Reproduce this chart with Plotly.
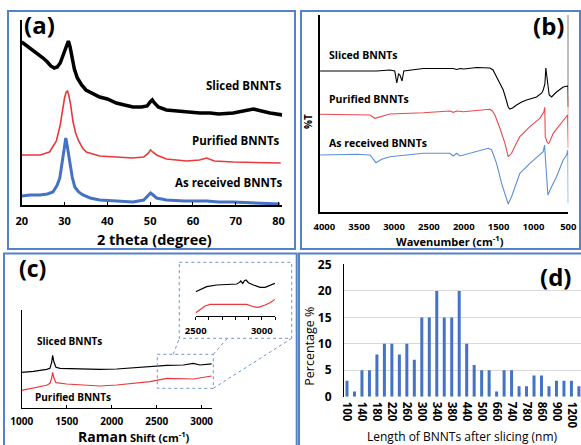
import plotly.graph_objects as go

# ---------------- data ----------------
# (a) XRD
xrd_2theta_sliced = [20, 21, 22, 23, 24, 25, 26, 26.8, 27.6, 28.3, 29.0, 29.6, 30.1, 30.6, 30.9, 31.3, 31.8, 32.3, 33.0, 34.0,
                     35, 36.5, 38.2, 40, 42.1, 44, 46, 48, 49.3, 50.0, 50.5, 51.0, 51.9, 53.8, 56, 58, 61.6, 64, 66, 69.4,
                     72, 74.1, 76, 78, 81]
xrd_sliced = [163, 160, 156, 153, 150, 147, 143, 139, 137, 138, 142, 149, 157, 163, 164, 158, 147, 136, 127, 120,
              115, 112, 108, 106, 102, 100, 98, 98, 99, 103, 105, 102, 98, 95, 94, 93, 92, 92, 91, 92,
              94, 96, 94, 92, 90]
xrd_2theta_purified = [20, 24.3, 26.5, 28.1, 29.0, 29.5, 30, 30.4, 30.7, 31.0, 31.4, 32, 32.6, 33.2, 34.2,
                       35.1, 38.2, 46, 48.5, 49.4, 50.1, 50.6, 51.5, 53.8, 58.5, 61.5, 63.2, 65, 69.4, 80.5]
xrd_purified = [50, 50, 53, 64, 80, 95, 107, 113, 114, 110, 101, 83, 72, 65, 57,
                53, 49, 47, 48, 51, 55, 53, 50, 46, 44, 45, 47, 44, 43, 42]
xrd_2theta_received = [20, 22, 24.3, 26, 27.3, 28.3, 28.9, 29.4, 29.8, 30.1, 30.3, 30.6, 30.9, 31.3, 31.8, 32.4, 33.3,
                       34.3, 36, 38.2, 42, 46, 48.5, 49.5, 50.1, 50.7, 51.5, 53.8, 58, 63.2, 66, 69.4, 75, 80.3]
xrd_received = [9, 10, 10, 11, 13, 20, 27, 40, 52, 62, 67, 60, 52, 38, 28, 18, 13,
                10, 7, 5, 4, 3, 5, 9, 12, 10, 7, 5, 4, 4, 3, 3, 2, 1]
xrd_ticks = [20, 30, 40, 50, 60, 70, 80]

# (b) FTIR
ftir_wn_sliced = [4060, 3536, 3250, 3060, 2990, 2960, 2935, 2915, 2885, 2860, 2580, 2150, 2100, 2050, 2000,
                  1815, 1624, 1580, 1529, 1480, 1433, 1390, 1362, 1338, 1300, 1242, 1170, 1099, 956, 880,
                  860, 836, 826, 822, 812, 802, 785, 774, 740, 669, 573, 516, 505, 500, 500]
ftir_sliced = [141, 141, 141, 142, 141, 129, 138, 137, 131, 141, 143.5, 143.5, 142.5, 143.5, 143,
               144.5, 144, 142, 135, 128, 122, 112, 105, 103, 104, 107, 110, 112, 115, 119,
               122, 128, 138, 144, 138, 132, 121, 117, 115, 120, 125, 126, 126, 105, 197]
ftir_wn_purified = [4060, 3536, 3345, 3273, 3202, 3058, 2580, 2198, 2150, 2100, 2007, 1815, 1624, 1590, 1553,
                    1481, 1409, 1362, 1314, 1250, 1195, 1051, 908, 850, 838, 830, 805, 785, 774, 716,
                    620, 548, 510, 500, 500]
ftir_purified = [97.7, 97.7, 97, 93.7, 95.3, 98, 99.3, 101, 99.7, 101, 100.3, 101.3, 102.7, 101, 97,
                 83.7, 68.7, 55.3, 58.7, 68, 75.3, 85.3, 93.7, 100.3, 104.7, 75, 70, 68.5, 69, 78.7,
                 87, 93.7, 97, 63.7, 115.3]
ftir_wn_received = [4060, 3536, 3345, 3259, 3178, 3058, 2580, 2198, 2150, 2102, 2055, 2007, 1815, 1648, 1600,
                    1529, 1457, 1395, 1362, 1314, 1250, 1195, 1051, 908, 860, 841, 830, 793, 740, 669,
                    573, 525, 505, 500]
ftir_received = [57, 57.7, 57, 49.3, 52.7, 55.3, 58.7, 58.7, 56, 58.7, 56, 57, 60.3, 63.7, 62,
                 48.7, 28.7, 15.3, 8, 15.3, 28, 38.7, 48.7, 57, 60.3, 67, 55.3, 17, 25.3, 35.3,
                 52, 57, 62, 8.7]
ftir_ticks = [4000, 3500, 3000, 2500, 2000, 1500, 1000, 500]

# (c) Raman
raman_shift_sliced = [1000, 1130, 1278, 1314, 1333, 1344, 1359, 1381, 1426, 1684, 1870, 2056, 2240, 2426, 2612,
                      2796, 2870, 2907, 2981, 3111]
raman_sliced = [36, 37, 39, 40, 46, 53, 46, 41, 40, 39, 39, 39.3, 40.5, 41.6, 43, 43.3, 44, 45, 43.3, 44.5]
raman_shift_purified = [1000, 1130, 1278, 1314, 1333, 1344, 1359, 1381, 1500, 1684, 1870, 2056, 2240, 2426,
                        2612, 2796, 2907, 3111]
raman_purified = [18, 20, 23, 25, 30, 36, 30, 25.6, 24.3, 23.3, 22.3, 23.3, 25, 26.6, 30, 30, 29.3, 32.3]
raman_ticks = [1000, 1500, 2000, 2500, 3000]

inset_shift_sliced = [2500, 2533, 2583, 2659, 2735, 2811, 2831, 2841, 2856, 2869, 2881, 2899, 2937, 2987, 3025,
                      3063, 3100]
inset_sliced = [24, 26.3, 29, 30.7, 31.3, 31.7, 33.3, 34.7, 32.3, 35, 35.7, 33, 30.7, 28.3, 28.3, 30.7, 32.3]
inset_shift_purified = [2500, 2533, 2571, 2609, 2710, 2811, 2886, 2937, 2975, 3025, 3063, 3100]
inset_purified = [3, 6.3, 9.7, 11.3, 11.3, 11.7, 11.3, 9, 8.3, 10.7, 13, 16.3]
inset_ticks = [2500, 3000]

# (d) length distribution
lengths = ["100", "120", "140", "160", "180", "200", "220", "240", "260", "280",
           "300", "320", "340", "360", "380", "400", "440", "460", "500", "560",
           "660", "700", "740", "760", "780", "820", "860", "880", "900", "1000",
           "1200", "1300"]
percent = [3, 1, 5, 5, 8, 10, 10, 8, 10, 7,
           15, 15, 20, 15, 15, 20, 10, 6, 5, 5,
           1, 5, 5, 2, 2, 4, 4, 2, 3, 3,
           3, 2]
length_tick_labels = lengths[::2]

# ---------------- layout helpers ----------------
W, H = 581, 445
def px(x):
    return x / W
def py(y):
    return 1 - y / H

F = "Open Sans"
BLUE = "#4472c4"
RED = "#e8393c"
BORDER = "#5582c6"

fig = go.Figure()

# (a)
fig.add_trace(go.Scatter(x=xrd_2theta_sliced, y=xrd_sliced, mode="lines",
                         line=dict(color="black", width=3.5), xaxis="x", yaxis="y"))
fig.add_trace(go.Scatter(x=xrd_2theta_purified, y=xrd_purified, mode="lines",
                         line=dict(color=RED, width=1.6), xaxis="x", yaxis="y"))
fig.add_trace(go.Scatter(x=xrd_2theta_received, y=xrd_received, mode="lines",
                         line=dict(color=BLUE, width=3), xaxis="x", yaxis="y"))
# (b)
fig.add_trace(go.Scatter(x=ftir_wn_sliced, y=ftir_sliced, mode="lines",
                         line=dict(color="black", width=1.1), xaxis="x2", yaxis="y2"))
fig.add_trace(go.Scatter(x=ftir_wn_purified, y=ftir_purified, mode="lines",
                         line=dict(color="#e84a4f", width=1.1), xaxis="x2", yaxis="y2"))
fig.add_trace(go.Scatter(x=ftir_wn_received, y=ftir_received, mode="lines",
                         line=dict(color="#5b8fd8", width=1.1), xaxis="x2", yaxis="y2"))
# (c)
fig.add_trace(go.Scatter(x=raman_shift_sliced, y=raman_sliced, mode="lines",
                         line=dict(color="black", width=1.2), xaxis="x3", yaxis="y3"))
fig.add_trace(go.Scatter(x=raman_shift_purified, y=raman_purified, mode="lines",
                         line=dict(color=RED, width=1.2), xaxis="x3", yaxis="y3"))
fig.add_trace(go.Scatter(x=inset_shift_sliced, y=inset_sliced, mode="lines",
                         line=dict(color="black", width=1.2), xaxis="x4", yaxis="y4"))
fig.add_trace(go.Scatter(x=inset_shift_purified, y=inset_purified, mode="lines",
                         line=dict(color=RED, width=1.2), xaxis="x4", yaxis="y4"))
# (d)
fig.add_trace(go.Bar(x=lengths, y=percent, width=0.4, marker=dict(color=BLUE, line=dict(width=0)),
                     xaxis="x5", yaxis="y5"))

def tf(size, bold=True):
    return dict(family=F, size=size, color="black", weight="bold" if bold else "normal")

noaxis = dict(showgrid=False, zeroline=False)

fig.update_layout(
    width=W, height=H, margin=dict(l=0, r=0, t=0, b=0),
    paper_bgcolor="white", plot_bgcolor="rgba(0,0,0,0)", showlegend=False, template="none",
    xaxis=dict(domain=[px(21.7), px(282)], range=[20, 80.8], anchor="y", showline=True, linecolor="black",
               linewidth=1.5, ticks="inside", ticklen=3, tickcolor="black", tickmode="array", tickvals=xrd_ticks,
               tickfont=tf(11), ticklabelstandoff=5, **noaxis),
    yaxis=dict(domain=[py(205), py(20)], range=[0, 185], anchor="x", showline=True, linecolor="black",
               linewidth=1.5, showticklabels=False, ticks="", **noaxis),
    xaxis2=dict(domain=[px(320), px(568.3)], range=[4062, 500], anchor="y2", showline=True, linecolor="black",
                linewidth=1.5, ticks="", tickmode="array", tickvals=ftir_ticks, tickfont=tf(9.5),
                ticklabelstandoff=5, **noaxis),
    yaxis2=dict(domain=[py(212), py(15)], range=[0, 197], anchor="x2", showline=True, linecolor="black",
                linewidth=1.5, showticklabels=False, ticks="", **noaxis),
    xaxis3=dict(domain=[px(21.7), px(212)], range=[1000, 3115], anchor="y3", showline=True, linecolor="black",
                linewidth=1.2, ticks="inside", ticklen=3, tickcolor="black", tickmode="array", tickvals=raman_ticks,
                tickfont=tf(10), ticklabelstandoff=4, **noaxis),
    yaxis3=dict(domain=[py(408.3), py(310)], range=[0, 98.3], anchor="x3", showline=True, linecolor="black",
                linewidth=1.2, showticklabels=False, ticks="", **noaxis),
    xaxis4=dict(domain=[px(195.7), px(275)], range=[2500, 3100], anchor="y4", showline=True, linecolor="black",
                linewidth=1.2, ticks="outside", ticklen=3, tickcolor="black", tickmode="array", tickvals=inset_ticks,
                minor=dict(dtick=100, tick0=2500, ticks="outside", ticklen=3, tickcolor="black", showgrid=False),
                tickfont=tf(9.5), ticklabelstandoff=3, **noaxis),
    yaxis4=dict(domain=[py(315.7), py(275.7)], range=[0, 40], anchor="x4", visible=False, **noaxis),
    xaxis5=dict(domain=[px(344), 1], type="category", categoryorder="array", categoryarray=lengths,
                range=[-0.4, 31.28], anchor="y5", showline=False, ticks="", tickmode="array",
                tickvals=length_tick_labels, tickangle=90, tickfont=tf(11.5), ticklabelstandoff=4, **noaxis),
    yaxis5=dict(domain=[py(396.7), py(264.3)], range=[0, 25.05], anchor="x5", showline=True, linecolor="black",
                linewidth=1.2, ticks="", dtick=5, tick0=0, showgrid=True, gridcolor="#d9d9d9", gridwidth=1,
                zeroline=False, tickfont=tf(12), ticklabelstandoff=9),
)

def ann(text, x, y, size, bold=True, xanchor="center", angle=0, color="black"):
    return dict(text=text, x=px(x), y=py(y), xref="paper", yref="paper", showarrow=False,
                xanchor=xanchor, yanchor="middle", textangle=angle,
                font=dict(family=F, size=size, color=color, weight="bold" if bold else "normal"))

annotations = [
    ann("(a)", 40, 24, 24), ann("(b)", 548, 25, 24), ann("(c)", 32, 268, 23), ann("(d)", 555, 276, 24),
    ann("Sliced BNNTs", 283, 85, 11.5, xanchor="right"),
    ann("Purified BNNTs", 282, 140, 11.5, xanchor="right"),
    ann("As received BNNTs", 285, 183, 11.5, xanchor="right"),
    ann("2 theta (degree)", 154.5, 239.5, 14.5),
    ann("Sliced BNNTs", 327, 55, 10.5, xanchor="left"),
    ann("Purified BNNTs", 327, 99, 10.5, xanchor="left"),
    ann("As received BNNTs", 327, 143, 10.5, xanchor="left"),
    ann("%T", 308, 122, 10, angle=-90),
    ann("Wavenumber (cm<sup>-1</sup>)", 449.7, 241, 11),
    ann("Sliced BNNTs", 69.5, 340.7, 10),
    ann("Purified BNNTs", 73, 397, 10),
    ann("<span style='font-size:14px'>Raman</span> Shift (cm<sup>-1</sup>)", 133.5, 436, 11),
    ann("Percentage %", 310, 346.7, 12.5, bold=False, angle=-90),
    ann("Length of BNNTs after slicing (nm)", 462, 436.5, 12, bold=False),
]
fig.update_layout(annotations=annotations)

def rect(x0, y0, x1, y1, color, width, dash="solid"):
    return dict(type="rect", xref="paper", yref="paper", x0=px(x0), x1=px(x1), y0=py(y0), y1=py(y1),
                line=dict(color=color, width=width, dash=dash), fillcolor="rgba(0,0,0,0)", layer="above")

def seg(x0, y0, x1, y1):
    return dict(type="line", xref="paper", yref="paper", x0=px(x0), x1=px(x1), y0=py(y0), y1=py(y1),
                line=dict(color="#6f95d2", width=1, dash="dot"), layer="above")

shapes = [
    rect(8, 11, 295, 249, BORDER, 2),
    rect(301, 11, 580, 249, BORDER, 2),
    rect(4, 253.5, 296.7, 448, BORDER, 2),
    rect(299, 253.5, 584, 448, BORDER, 2),
    rect(157.3, 354.3, 213.3, 388.3, "#6f95d2", 1, "dot"),
    rect(179.3, 262.3, 291.7, 338.3, "#6f95d2", 1, "dot"),
    seg(173.3, 354.3, 179.3, 338.3),
    seg(213.3, 354.3, 227.3, 338.3),
    seg(213.3, 388.3, 291.7, 338.3),
]
fig.update_layout(shapes=shapes)

fig.write_html("out.html", config={"displayModeBar": False},
               post_script="document.body.style.margin='0px';document.body.style.overflow='hidden';")
